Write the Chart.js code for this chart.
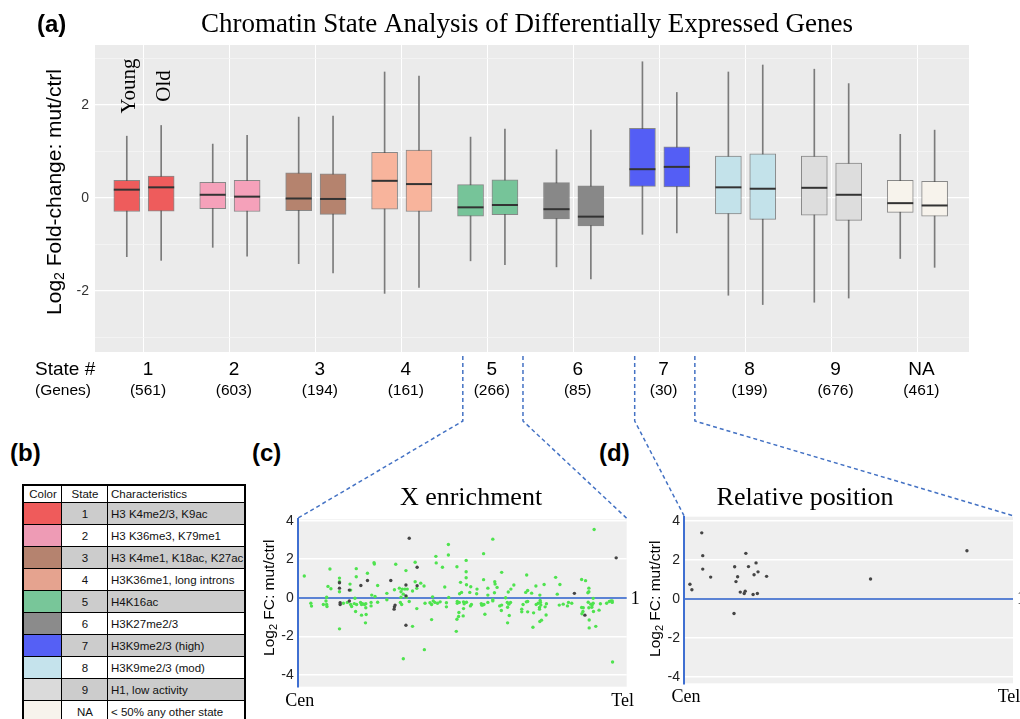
<!DOCTYPE html>
<html>
<head>
<meta charset="utf-8">
<script src="https://cdn.jsdelivr.net/npm/chart.js@4.4.1/dist/chart.umd.min.js"></script>
<style>
  body { margin:0; background:#fff; width:1020px; height:719px; overflow:hidden; position:relative; font-family:"Liberation Sans", Arial, sans-serif; }
  .wrap { position:absolute; }
  #boxWrap { left:0; top:0; }
  #encWrap { left:250px; top:470px; }
  #relWrap { left:640px; top:470px; }
  #overlay { position:absolute; left:0; top:0; pointer-events:none; z-index:5; }
  .panel { position:absolute; font:bold 24px "Liberation Sans", Arial, sans-serif; line-height:26px; }
  #stateKey { position:absolute; left:22px; top:484px; width:224px; table-layout:fixed; border-collapse:collapse; border:2px solid #000; font:11.5px "Liberation Sans", Arial, sans-serif; color:#111; }
  #stateKey td { border:1px solid #000; height:21px; padding:0 2px 0 3px; white-space:nowrap; overflow:hidden; }
  #stateKey tr.head td { height:16px; }
  #stateKey td.c { text-align:center; }
</style>
</head>
<body>
<div class="wrap" id="boxWrap"><canvas id="boxChart" width="1020" height="419"></canvas></div>
<div class="wrap" id="encWrap"><canvas id="encChart" width="390" height="249"></canvas></div>
<div class="wrap" id="relWrap"><canvas id="relChart" width="380" height="249"></canvas></div>
<canvas id="overlay" width="1020" height="719"></canvas>
<div class="panel" style="left:10px; top:440px;">(b)</div>
<div class="panel" style="left:252px; top:440px;">(c)</div>
<div class="panel" style="left:599px; top:440px;">(d)</div>
<table id="stateKey"></table>

<script>
// states and gene counts
const states = ['1', '2', '3', '4', '5', '6', '7', '8', '9', 'NA'];
const geneCounts = [561, 603, 194, 161, 266, 85, 30, 199, 676, 461];
const boxColors = ['#EE5C5C', '#F5A1BA', '#B5836E', '#F8B49C', '#76C499', '#888888', '#545EF5', '#C3E2EA', '#DDDDDD', '#F7F3EC'];
const keyColors = ['#EF5B5B', '#EE9BB5', '#B5836F', '#E5A38F', '#78C699', '#8B8B8B', '#5560F5', '#C5E3EC', '#DADADA', '#F7F3EC'];
const characteristics = ['H3 K4me2/3, K9ac', 'H3 K36me3, K79me1', 'H3 K4me1, K18ac, K27ac', 'H3K36me1, long introns', 'H4K16ac',
  'H3K27me2/3', 'H3K9me2/3 (high)', 'H3K9me2/3 (mod)', 'H1, low activity', '< 50% any other state'];

// box stats, Young
const youngMin = [-1.26, -1.06, -1.41, -2.05, -1.35, -1.48, -0.78, -2.09, -2.24, -1.30];
const youngQ1  = [-0.29, -0.23, -0.27, -0.24, -0.39, -0.45, 0.25, -0.34, -0.37, -0.31];
const youngMed = [0.18, 0.07, -0.01, 0.37, -0.20, -0.24, 0.62, 0.23, 0.22, -0.11];
const youngQ3  = [0.38, 0.34, 0.54, 0.98, 0.29, 0.33, 1.50, 0.90, 0.90, 0.38];
const youngMax = [1.33, 1.16, 1.74, 2.71, 1.31, 1.04, 2.93, 2.71, 2.77, 1.37];
// box stats, Old
const oldMin = [-1.34, -1.25, -1.61, -1.92, -1.43, -1.74, -0.75, -2.29, -2.15, -1.49];
const oldQ1  = [-0.28, -0.29, -0.35, -0.29, -0.36, -0.60, 0.24, -0.46, -0.48, -0.39];
const oldMed = [0.23, 0.03, -0.02, 0.30, -0.15, -0.40, 0.67, 0.20, 0.07, -0.16];
const oldQ3  = [0.47, 0.38, 0.52, 1.03, 0.39, 0.26, 1.10, 0.95, 0.75, 0.36];
const oldMax = [1.56, 1.35, 1.76, 2.62, 1.48, 1.46, 2.27, 2.86, 2.46, 1.46];

// (c) state 5 genes on X: [relative position %, log2 FC]
const xEnrichGreen = [
  [2.0,1.13],[9.8,1.49],[12.7,1.02],[12.7,0.83],[9.2,0.59],[10.1,0.47],[12.7,0.31],[8.8,0.03],[4.0,-0.28],[4.2,-0.43],
  [7.8,-0.35],[8.6,-0.17],[8.8,-0.35],[8.9,-0.45],[17.8,1.51],[17.8,1.09],[21.2,1.27],[23.2,1.82],[23.3,1.75],[29.8,1.74],
  [32.9,1.41],[15.9,0.71],[16.1,0.40],[24.3,0.64],[29.4,0.42],[30.9,0.50],[31.8,0.45],[32.6,0.45],[33.3,0.45],[31.4,0.31],
  [32.1,0.19],[22.5,0.14],[23.5,0.07],[27.1,0.23],[17.4,-0.02],[13.9,-0.28],[15.1,-0.24],[16.1,-0.35],[16.4,-0.45],[17.2,-0.30],
  [17.9,-0.35],[19.1,-0.24],[19.7,-0.31],[20.7,-0.31],[19.4,-0.35],[20.3,-0.35],[22.3,-0.24],[22.3,-0.42],[24.3,-0.23],[20.7,-0.52],
  [17.6,-0.71],[19.4,-0.90],[20.8,-0.87],[20.6,-1.30],[12.7,-1.61],[27.1,-0.10],[31.2,-0.24],[31.6,-0.35],[33.9,-0.19],
  [32.1,-3.16],[31.4,0.03],[33.0,0.03],
  [35.7,1.84],[34.9,0.35],[35.7,0.83],[36.2,0.49],[37.4,0.76],[38.4,0.61],[42.0,2.15],[42.1,1.81],[45.8,2.76],[45.8,2.22],
  [44.0,1.58],[44.7,0.56],[36.2,-0.56],[34.9,-1.48],[38.5,-2.69],[38.7,-0.28],[40.2,-0.26],[40.7,-0.35],[41.0,0.05],[41.2,-0.17],
  [41.7,-0.24],[42.5,-0.28],[43.3,-0.21],[40.7,-1.13],[45.2,-0.26],[45.2,-0.47],[45.9,0.02],[48.4,1.61],[49.5,0.80],[51.2,1.35],
  [51.2,1.04],[51.3,0.68],[52.6,0.57],[49.2,0.21],[49.8,0.28],[54.5,0.45],[54.4,0.21],[52.3,0.28],[48.5,-0.19],[48.5,-0.28],
  [49.1,-0.24],[50.4,-0.21],[50.6,-0.31],[51.3,-0.23],[52.8,-0.35],[52.5,-0.42],[50.4,-0.56],[49.0,-0.76],[48.9,-0.97],[48.4,-1.11],
  [50.3,-0.94],[48.2,-1.74],[51.2,1.94],[56.5,2.29],[59.3,3.04],[56.5,0.94],[57.8,0.50],[57.8,0.14],[59.9,0.83],[60.0,0.71],
  [60.6,0.54],[59.8,0.26],[62.0,1.32],[55.8,-0.30],[56.2,-0.38],[56.6,-0.35],[57.8,-0.24],[59.3,-0.10],[59.3,-0.16],[56.9,-0.85],
  [61.4,-0.42],[62.0,-0.38],[61.9,-0.66],[63.2,0.00],[64.0,0.30],[64.8,0.45],[65.7,0.66],[63.7,-0.24],[64.2,-0.33],[64.7,-0.24],
  [63.8,-0.49],[64.3,-0.92],[63.8,-1.30],[55.9,-0.38],
  [69.6,1.18],[69.9,0.38],[69.3,0.28],[71.1,0.24],[72.4,0.61],[74.9,0.69],[78.4,1.06],[79.7,0.69],[78.9,0.19],[73.6,0.14],
  [68.5,-0.35],[69.5,-0.21],[69.9,-0.19],[68.1,-0.59],[68.1,-0.73],[69.9,-0.73],[71.7,-0.78],[72.5,-0.35],[73.1,-0.28],[73.7,-0.14],
  [73.8,-0.24],[73.9,-0.38],[73.5,-0.50],[73.5,-0.59],[75.2,-0.47],[75.6,-0.31],[75.5,-0.89],[74.1,-1.16],[73.6,-1.23],[71.5,-1.53],
  [79.5,-0.38],[80.7,-0.33],[82.0,-0.42],[82.3,-0.24],[83.3,-0.28],[86.3,0.95],[87.5,0.89],[88.5,0.50],[88.5,0.31],[88.2,0.26],
  [89.8,-0.03],[88.3,-0.23],[89.1,-0.33],[89.5,-0.38],[89.8,-0.28],[89.4,-0.49],[88.5,-0.52],[86.3,-0.50],[86.8,-0.52],[86.7,-0.71],
  [86.4,-0.83],[89.9,-0.71],[91.6,-0.64],[92.0,-0.31],[93.9,-0.28],[94.7,-0.19],[95.2,-0.16],[95.6,-0.24],[95.6,-0.16],[88.6,-1.15],
  [90.6,-1.48],[88.6,-1.56],[90.1,3.54],[95.7,-3.33]
];
const xEnrichOther = [
  [33.9,3.09],[12.7,0.78],[12.7,0.50],[15.7,0.40],[19.2,0.64],[21.2,0.90],[28.3,0.90],[32.9,0.66],[32.9,0.10],[12.9,-0.26],
  [12.9,-0.35],[15.7,-0.17],[29.6,-0.38],[29.4,-0.47],[29.3,-0.59],[32.9,-1.42],[36.3,1.58],[36.3,0.63],[84.1,0.23],[87.3,-0.90],
  [96.8,2.07]
];
// (d) state 7 genes: [relative position %, log2 FC]
const relPosition = [
  [5.4,3.38],[5.7,2.21],[5.7,1.52],[8.1,1.11],[1.8,0.74],[2.4,0.46],[18.8,2.33],[21.9,1.84],[15.4,1.64],[19.6,1.65],
  [22.5,1.38],[21.3,1.23],[16.3,1.13],[25.1,1.15],[15.8,0.88],[17.1,0.34],[18.6,0.39],[18.3,0.27],[21.0,0.22],[22.3,0.27],
  [15.2,-0.76],[56.7,1.01],[86.0,2.46]
];

const boxTicks = [-3, -2, -1, 0, 1, 2, 3];
const scatterTicks = [-4, -2, 0, 2, 4];

Chart.defaults.font.family = '"Liberation Sans", Arial, sans-serif';

// build box + whisker data
const boxData = [], boxBg = [], whiskerData = [];
states.forEach((s, i) => {
  boxData.push({x: i + 1 - 0.2, y: [youngQ1[i], youngQ3[i]]});
  boxData.push({x: i + 1 + 0.2, y: [oldQ1[i], oldQ3[i]]});
  boxBg.push(boxColors[i], boxColors[i]);
  whiskerData.push({x: i + 1 - 0.2, y: [youngMin[i], youngMax[i]]});
  whiskerData.push({x: i + 1 + 0.2, y: [oldMin[i], oldMax[i]]});
});

function drawYTitle(ctx, x, y, size, rest) {
  ctx.save();
  ctx.translate(x, y);
  ctx.rotate(-Math.PI / 2);
  ctx.fillStyle = '#000';
  ctx.textBaseline = 'middle';
  const big = size + 'px "Liberation Sans"';
  const small = Math.round(size * 0.68) + 'px "Liberation Sans"';
  ctx.font = big;
  const w1 = ctx.measureText('Log').width;
  const w3 = ctx.measureText(rest).width;
  ctx.font = small;
  const w2 = ctx.measureText('2').width;
  let cx = -(w1 + w2 + w3) / 2;
  ctx.textAlign = 'left';
  ctx.font = big;
  ctx.fillText('Log', cx, 0);
  ctx.font = small;
  ctx.fillText('2', cx + w1, size * 0.25);
  ctx.font = big;
  ctx.fillText(rest, cx + w1 + w2, 0);
  ctx.restore();
}

const boxDecor = {
  id: 'boxDecor',
  beforeDraw(chart) {
    const a = chart.chartArea, ctx = chart.ctx;
    ctx.save();
    ctx.fillStyle = '#EBEBEB';
    ctx.fillRect(a.left, a.top, a.right - a.left, a.bottom - a.top);
    ctx.restore();
  },
  afterDatasetsDraw(chart) {
    const ctx = chart.ctx, xs = chart.scales.x, ys = chart.scales.y;
    ctx.save();
    ctx.strokeStyle = '#333';
    ctx.lineWidth = 2;
    states.forEach((s, i) => {
      [[i + 1 - 0.2, youngMed[i]], [i + 1 + 0.2, oldMed[i]]].forEach(([p, m]) => {
        const x = xs.getPixelForValue(p), y = ys.getPixelForValue(m);
        ctx.beginPath();
        ctx.moveTo(x - 13, y);
        ctx.lineTo(x + 13, y);
        ctx.stroke();
      });
    });
    ctx.restore();
  },
  afterDraw(chart) {
    const ctx = chart.ctx, xs = chart.scales.x;
    ctx.save();
    ctx.fillStyle = '#000';
    ctx.font = 'bold 24px "Liberation Sans"';
    ctx.textAlign = 'left';
    ctx.textBaseline = 'alphabetic';
    ctx.fillText('(a)', 37, 31.5);
    ctx.font = '27px "Liberation Serif"';
    ctx.textAlign = 'center';
    ctx.fillText('Chromatin State Analysis of Differentially Expressed Genes', 527, 31.5);

    // Young / Old labels over state 1
    ctx.font = '21px "Liberation Serif"';
    ctx.textBaseline = 'middle';
    [['Young', 1 - 0.2], ['Old', 1 + 0.2]].forEach(([t, p]) => {
      ctx.save();
      ctx.translate(xs.getPixelForValue(p) + 3, 86);
      ctx.rotate(-Math.PI / 2);
      ctx.fillText(t, 0, 0);
      ctx.restore();
    });

    // state / gene count labels
    ctx.textBaseline = 'alphabetic';
    ctx.textAlign = 'left';
    ctx.font = '19px "Liberation Sans"';
    ctx.fillText('State #', 35, 375);
    ctx.font = '15.5px "Liberation Sans"';
    ctx.fillText('(Genes)', 35, 395);
    ctx.textAlign = 'center';
    states.forEach((s, i) => {
      const x = xs.getPixelForValue(i + 1) + 4;
      ctx.font = '19px "Liberation Sans"';
      ctx.fillText(s, x, 375);
      ctx.font = '15.5px "Liberation Sans"';
      ctx.fillText('(' + geneCounts[i] + ')', x, 395);
    });
    ctx.restore();
    drawYTitle(ctx, 55, 192, 21, ' Fold-change: mut/ctrl');
  }
};

const boxChart = new Chart(document.getElementById('boxChart'), {
  type: 'bar',
  data: {
    datasets: [
      { label: 'box', data: boxData, backgroundColor: boxBg, borderColor: 'rgba(70,70,70,0.6)', borderWidth: 1,
        borderSkipped: false, barThickness: 26, grouped: false, order: 1 },
      { label: 'whisker', data: whiskerData, backgroundColor: '#7b7b7b', borderWidth: 0,
        barThickness: 1, grouped: false, order: 2 }
    ]
  },
  options: {
    responsive: false,
    animation: false,
    layout: { padding: { left: 0, right: 51, top: 45, bottom: 0 } },
    plugins: { legend: { display: false }, tooltip: { enabled: false } },
    scales: {
      x: {
        type: 'linear', min: 0.43, max: 10.6, offset: false,
        afterBuildTicks: s => { s.ticks = states.map((t, i) => ({ value: i + 1 })); },
        afterFit: s => { s.height = 67; },
        grid: { color: '#FFFFFF', lineWidth: 1, drawTicks: false, offset: false },
        border: { display: false },
        ticks: { display: false }
      },
      y: {
        min: -3.31, max: 3.29,
        afterBuildTicks: s => { s.ticks = boxTicks.map(v => ({ value: v })); },
        afterFit: s => { s.width = 95; },
        grid: {
          color: c => (c.tick && c.tick.value % 2 === 0) ? '#FFFFFF' : '#F5F5F5',
          lineWidth: c => (c.tick && c.tick.value % 2 === 0) ? 1.2 : 0.8,
          drawTicks: false
        },
        border: { display: false },
        ticks: { padding: 6, color: '#333', font: { size: 14 }, callback: v => (v % 2 === 0 ? String(v) : '') }
      }
    }
  },
  plugins: [boxDecor]
});

function scatterDecor(title, titleX) {
  return {
    id: 'scatterDecor',
    beforeDraw(chart) {
      const a = chart.chartArea, ctx = chart.ctx;
      ctx.save();
      ctx.fillStyle = '#EFEFEF';
      ctx.fillRect(a.left, a.top, a.right - a.left, a.bottom - a.top);
      ctx.restore();
    },
    afterDraw(chart) {
      const a = chart.chartArea, ctx = chart.ctx, ys = chart.scales.y;
      ctx.save();
      ctx.fillStyle = '#000';
      ctx.font = '26px "Liberation Serif"';
      ctx.textAlign = 'center';
      ctx.textBaseline = 'alphabetic';
      ctx.fillText(title, titleX, 35);
      ctx.font = '18px "Liberation Serif"';
      ctx.fillText('Cen', a.left + 2, a.bottom + 19);
      ctx.fillText('Tel', a.right - 4, a.bottom + 19);
      ctx.textAlign = 'left';
      ctx.textBaseline = 'middle';
      ctx.fillText('1', a.right + 4, ys.getPixelForValue(0) + 1);
      ctx.restore();
      drawYTitle(ctx, a.left - 28, ys.getPixelForValue(0), 15.5, ' FC: mut/ctrl');
    }
  };
}

function scatterScales(min, max, axisWidth) {
  return {
    x: { type: 'linear', min: 0, max: 100, display: false },
    y: {
      min: min, max: max,
      afterBuildTicks: s => { s.ticks = scatterTicks.map(v => ({ value: v })); },
      afterFit: s => { s.width = axisWidth; },
      grid: {
        color: c => (c.tick && c.tick.value === 0) ? '#5B83D4' : '#FFFFFF',
        lineWidth: c => (c.tick && c.tick.value === 0) ? 2 : 1.6,
        drawTicks: false
      },
      border: { color: '#3F6FD1', width: 2 },
      ticks: { padding: 4, color: '#222', font: { size: 14 } }
    }
  };
}

const toXY = p => ({ x: p[0], y: p[1] });

const encChart = new Chart(document.getElementById('encChart'), {
  type: 'scatter',
  data: {
    datasets: [
      { data: xEnrichOther.map(toXY), backgroundColor: '#454545', pointRadius: 1.7, borderWidth: 0, order: 1 },
      { data: xEnrichGreen.map(toXY), backgroundColor: '#4FE34F', pointRadius: 1.7, borderWidth: 0, order: 2 }
    ]
  },
  options: {
    responsive: false, animation: false,
    layout: { padding: { left: 0, right: 13.3, top: 49.3, bottom: 32.3 } },
    plugins: { legend: { display: false }, tooltip: { enabled: false } },
    scales: scatterScales(-4.61, 4.07, 47.7)
  },
  plugins: [scatterDecor('X enrichment', 221)]
});

const relChart = new Chart(document.getElementById('relChart'), {
  type: 'scatter',
  data: {
    datasets: [
      { data: relPosition.map(toXY), backgroundColor: '#454545', pointRadius: 1.7, borderWidth: 0 }
    ]
  },
  options: {
    responsive: false, animation: false,
    layout: { padding: { left: 0, right: 7, top: 46.7, bottom: 35.7 } },
    plugins: { legend: { display: false }, tooltip: { enabled: false } },
    scales: scatterScales(-4.34, 4.21, 44)
  },
  plugins: [scatterDecor('Relative position', 165)]
});

// dashed zoom connectors from state 5 -> (c), state 7 -> (d)
function drawConnectors() {
  const ctx = document.getElementById('overlay').getContext('2d');
  const xs = boxChart.scales.x;
  const topY = boxChart.chartArea.bottom + 4, bendY = 421;
  const links = [[5, encChart, 250, 470], [7, relChart, 640, 470]];
  ctx.strokeStyle = '#4472C4';
  ctx.lineWidth = 1.5;
  ctx.setLineDash([4, 3]);
  links.forEach(([st, ch, ox, oy]) => {
    const a = ch.chartArea;
    const ends = [[xs.getPixelForValue(st - 0.29), ox + a.left], [xs.getPixelForValue(st + 0.41), ox + a.right]];
    ends.forEach(([x0, x1]) => {
      ctx.beginPath();
      ctx.moveTo(x0, topY);
      ctx.lineTo(x0, bendY);
      ctx.lineTo(x1, oy + a.top - 1);
      ctx.stroke();
    });
  });
}
drawConnectors();

// (b) state key table
const table = document.getElementById('stateKey');
let html = '<tr class="head"><td class="c" style="width:32px">Color</td><td class="c" style="width:40px">State</td><td>Characteristics</td></tr>';
states.forEach((s, i) => {
  const bg = i % 2 === 0 ? '#CCCCCC' : '#FFFFFF';
  html += '<tr><td style="background:' + keyColors[i] + '"></td>' +
    '<td class="c" style="background:' + bg + '">' + s + '</td>' +
    '<td style="background:' + bg + '">' + characteristics[i].replace('<', '&lt;') + '</td></tr>';
});
table.innerHTML = html;
</script>
</body>
</html>
